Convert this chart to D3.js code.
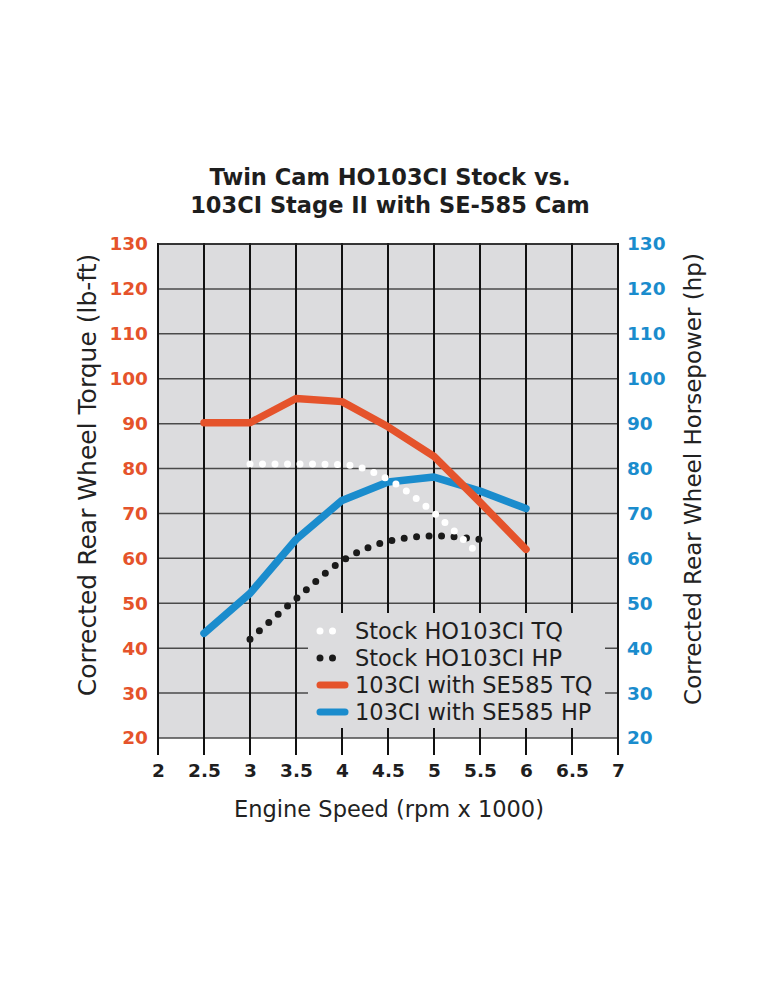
<!DOCTYPE html>
<html>
<head>
<meta charset="utf-8">
<script src="https://cdn.jsdelivr.net/npm/d3@7"></script>
<style>
  body { margin: 0; background: #fff; }
  text { font-family: "DejaVu Sans", sans-serif; }
</style>
</head>
<body>
<div id="chart"></div>
<script>
// Data (rpm x 1000)
const rpm = [2.5, 3, 3.5, 4, 4.5, 5, 5.5, 6];
const se585Tq = [90.2, 90.2, 95.6, 94.9, 89.3, 82.7, 72.5, 62];
const se585Hp = [43.3, 52.2, 64.2, 72.9, 77, 78.1, 75, 71.1];

const stockRpm = [3, 3.5, 4, 4.5, 5, 5.5];
const stockTq = [81, 81, 80.9, 77.6, 70.1, 60.6];
const stockHp = [42, 51, 59.4, 63.8, 65, 64.2];

const xTicks = [2, 2.5, 3, 3.5, 4, 4.5, 5, 5.5, 6, 6.5, 7];
const yTicks = [20, 30, 40, 50, 60, 70, 80, 90, 100, 110, 120, 130];

const legendLabels = [
    "Stock HO103CI TQ",
    "Stock HO103CI HP",
    "103CI with SE585 TQ",
    "103CI with SE585 HP"
];

const orange = "#e5532b",
      blue = "#1a8ccd",
      plotBg = "#dcdcde";

const svg = d3.select("#chart")
    .append("svg")
    .attr("width", 770)
    .attr("height", 990);

// plot area in page pixels
const plotLeft = 158, plotRight = 618, plotTop = 244, plotBottom = 738;

const x = d3.scaleLinear().domain([2, 7]).range([plotLeft, plotRight]);
const y = d3.scaleLinear().domain([20, 130]).range([plotBottom, plotTop]);

// Title
const titleLines = ["Twin Cam HO103CI Stock vs.", "103CI Stage II with SE-585 Cam"];
titleLines.forEach((t, i) => {
    svg.append("text")
        .attr("x", 390).attr("y", 185 + i * 28)
        .attr("text-anchor", "middle")
        .attr("font-family", "'Open Sans', sans-serif")
        .attr("font-size", 22.5).attr("font-weight", "bold")
        .attr("fill", "#1e1e1e")
        .text(t);
});

// Background
svg.append("rect")
    .attr("x", plotLeft).attr("y", plotTop)
    .attr("width", plotRight - plotLeft).attr("height", plotBottom - plotTop)
    .attr("fill", plotBg);

// Horizontal grid
svg.append("g")
    .selectAll("line")
    .data(yTicks)
    .join("line")
    .attr("x1", plotLeft).attr("x2", plotRight)
    .attr("y1", d => y(d)).attr("y2", d => y(d))
    .attr("stroke", "#4a4a4a")
    .attr("stroke-width", 1.5);

// Vertical grid, extended below as ticks
svg.append("g")
    .selectAll("line")
    .data(xTicks)
    .join("line")
    .attr("x1", d => x(d)).attr("x2", d => x(d))
    .attr("y1", plotTop - 1).attr("y2", plotBottom + 17)
    .attr("stroke", "#111")
    .attr("stroke-width", 2);

// top border
svg.append("line")
    .attr("x1", plotLeft).attr("x2", plotRight)
    .attr("y1", plotTop).attr("y2", plotTop)
    .attr("stroke", "#222").attr("stroke-width", 1.5);

// Legend box covers the grid
const lg = svg.append("g");
lg.append("rect")
    .attr("x", 308).attr("y", 613)
    .attr("width", 297).attr("height", 115)
    .attr("fill", plotBg);

// Axes
const tickFont = sel => sel
    .attr("font-size", 18.5).attr("font-weight", "bold")
    .attr("font-family", "'DejaVu Sans', sans-serif");

const yLeft = svg.append("g")
    .attr("transform", `translate(${plotLeft - 10},0)`)
    .call(d3.axisLeft(y).tickValues(yTicks).tickSize(0).tickPadding(0));
yLeft.select(".domain").remove();
yLeft.selectAll("text").attr("fill", orange).call(tickFont);

const yRight = svg.append("g")
    .attr("transform", `translate(${plotRight + 9},0)`)
    .call(d3.axisRight(y).tickValues(yTicks).tickSize(0).tickPadding(0));
yRight.select(".domain").remove();
yRight.selectAll("text").attr("fill", blue).call(tickFont);

const xAxis = svg.append("g")
    .attr("transform", "translate(0,777)")
    .call(d3.axisBottom(x).tickValues(xTicks).tickSize(0).tickPadding(0)
        .tickFormat(d3.format("")));
xAxis.select(".domain").remove();
xAxis.selectAll("text")
    .attr("fill", "#1e1e1e")
    .attr("dy", 0)
    .call(tickFont);

// Axis titles
svg.append("text")
    .attr("transform", "translate(96,475) rotate(-90)")
    .attr("text-anchor", "middle")
    .attr("font-size", 25)
    .attr("fill", "#222")
    .text("Corrected Rear Wheel Torque (lb-ft)");

svg.append("text")
    .attr("transform", "translate(701,479) rotate(-90)")
    .attr("text-anchor", "middle")
    .attr("font-size", 23)
    .attr("fill", "#222")
    .text("Corrected Rear Wheel Horsepower (hp)");

svg.append("text")
    .attr("x", 389).attr("y", 817)
    .attr("text-anchor", "middle")
    .attr("font-size", 22.5)
    .attr("fill", "#222")
    .text("Engine Speed (rpm x 1000)");

// Lines
const straight = d3.line()
    .x(d => x(d[0]))
    .y(d => y(d[1]));

const smooth = d3.line()
    .x(d => x(d[0]))
    .y(d => y(d[1]))
    .curve(d3.curveMonotoneX);

svg.append("path")
    .datum(d3.zip(rpm, se585Hp))
    .attr("d", straight)
    .attr("fill", "none")
    .attr("stroke", blue)
    .attr("stroke-width", 7.5)
    .attr("stroke-linecap", "round")
    .attr("stroke-linejoin", "round");

svg.append("path")
    .datum(d3.zip(rpm, se585Tq))
    .attr("d", straight)
    .attr("fill", "none")
    .attr("stroke", orange)
    .attr("stroke-width", 7.5)
    .attr("stroke-linecap", "round")
    .attr("stroke-linejoin", "round");

svg.append("path")
    .datum(d3.zip(stockRpm, stockHp))
    .attr("d", smooth)
    .attr("fill", "none")
    .attr("stroke", "#1a1a1a")
    .attr("stroke-width", 7)
    .attr("stroke-linecap", "round")
    .attr("stroke-dasharray", "0 12.5");

svg.append("path")
    .datum(d3.zip(stockRpm, stockTq))
    .attr("d", smooth)
    .attr("fill", "none")
    .attr("stroke", "#fff")
    .attr("stroke-width", 7)
    .attr("stroke-linecap", "round")
    .attr("stroke-dasharray", "0 12.5");

// Legend entries
const legendStyle = [
    { stroke: "#fff", dash: "0 12.5" },
    { stroke: "#1a1a1a", dash: "0 12.5" },
    { stroke: orange, dash: null },
    { stroke: blue, dash: null }
];

legendLabels.forEach((label, i) => {
    const cy = 631 + i * 27;
    lg.append("line")
        .attr("x1", 320).attr("x2", 345)
        .attr("y1", cy).attr("y2", cy)
        .attr("stroke", legendStyle[i].stroke)
        .attr("stroke-width", 7)
        .attr("stroke-linecap", "round")
        .attr("stroke-dasharray", legendStyle[i].dash);
    lg.append("text")
        .attr("x", 355).attr("y", cy + 8)
        .attr("font-size", 22.5)
        .attr("fill", "#1e1e1e")
        .text(label);
});
</script>
</body>
</html>
